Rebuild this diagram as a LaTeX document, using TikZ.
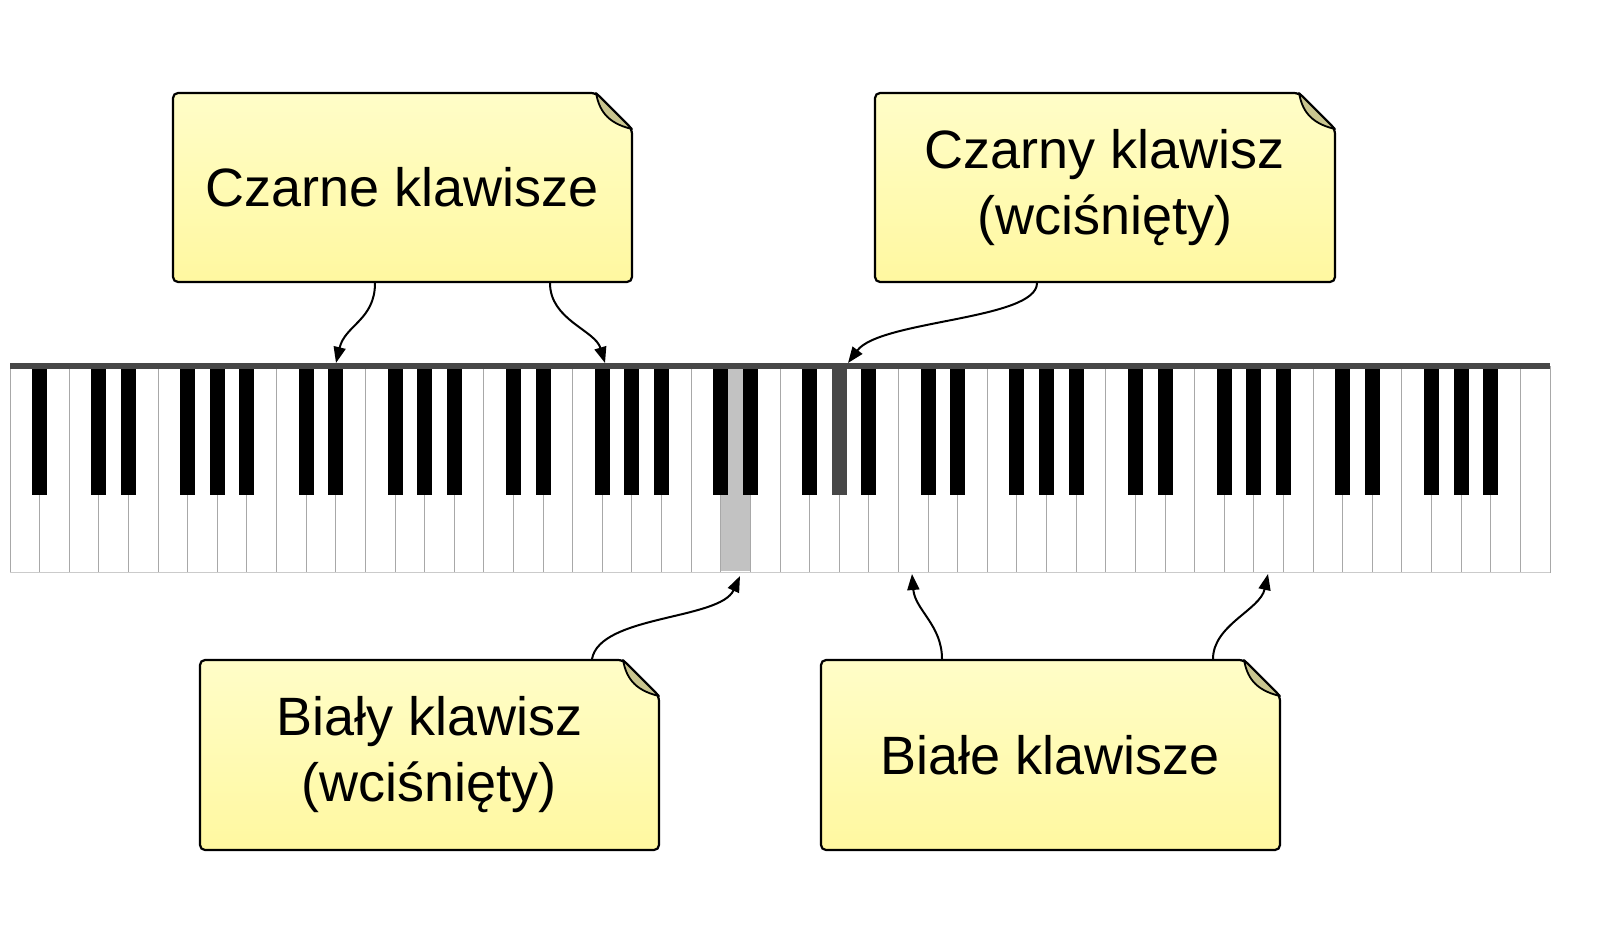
\documentclass[tikz,border=0pt]{standalone}
\usepackage{fontspec}
\setmainfont{Liberation Sans}
\usetikzlibrary{arrows.meta}
\definecolor{noteTop}{HTML}{FFFDC8}
\definecolor{noteBot}{HTML}{FFF8A0}
\definecolor{noteFold}{HTML}{C9C58F}
\definecolor{keyLine}{HTML}{A8A8A8}

\tikzset{
  notetext/.style={align=center, font=\fontsize{54}{66}\selectfont, inner sep=0pt},
  notebox/.style={draw=black, line width=2.2pt, rounded corners=5pt, top color=noteTop, bottom color=noteBot},
  notefold/.style={draw=black, line width=1.8pt, fill=noteFold, line join=round},
  pointer/.style={-{Triangle[length=16pt,width=12pt]}, line width=2pt},
  whitekey/.style={draw=keyLine, line width=1pt, fill=white},
  blackkey/.style={fill=black},
}

% callout: name, left, top, right, bottom, text
\newcommand{\notecallout}[6]{%
  \path[notebox] (#2,#3) -- (#4-36,#3) -- (#4,#3+36) -- (#4,#5) -- (#2,#5) -- cycle;%
  \path[notefold] (#4-36,#3) .. controls (#4-33,#3+16) and (#4-26,#3+30) .. (#4,#3+36) -- (#4-36,#3) -- cycle;%
  \node[notetext] (#1) at ({(#2+#4)/2},{(#3+#5)/2}) {#6};%
}

\begin{document}
\begin{tikzpicture}[x=1pt,y=-1pt]
    % white keys
    \foreach \i in {0,...,51} {
        \pgfmathsetmacro{\xl}{10+\i*29.615}
        \path[whitekey] (\xl,366) rectangle ++(29.615,206);
    }
    \fill[keyLine!70] (10+24*29.615,368) rectangle ++(29.615,203);

    % black keys (A0 B0 then 7 octaves)
    \foreach \b in {1,3,4,6,7,8,10,11,13,14,15,17,18,20,21,22,24,25,27,28,29,31,32,34,35,36,38,39,41,42,43,45,46,48,49,50} {
        \pgfmathsetmacro{\xc}{10+\b*29.615}
        \path[blackkey] (\xc-7.5,366) rectangle ++(15,129);
    }
    \fill[black!72] (10+28*29.615-7.5,366) rectangle ++(15,129);

    % top and bottom edges
    \fill[black!72] (10,363) rectangle (1550,369);
    \draw[keyLine!60, line width=1pt] (10,572) -- (1550,572);

    % arrow targets
    \coordinate (blackA) at (336,363);
    \coordinate (blackB) at (605,363);
    \coordinate (blackP) at (848,363);
    \coordinate (whiteP) at (740,576);
    \coordinate (whiteA) at (912,574);
    \coordinate (whiteB) at (1268,574);

    \notecallout{czarne}{173}{93}{632}{282}{Czarne klawisze}
    \notecallout{czarny}{875}{93}{1335}{282}{Czarny klawisz\\(wciśnięty)}
    \notecallout{bialy}{200}{660}{659}{850}{Biały klawisz\\(wciśnięty)}
    \notecallout{biale}{821}{660}{1280}{850}{Białe klawisze}

    \draw[pointer] (375,283) .. controls (375,320) and (345,325) .. (blackA);
    \draw[pointer] (550,283) .. controls (550,320) and (595,330) .. (blackB);
    \draw[pointer] (1037,283) .. controls (1037,320) and (880,320) .. (blackP);
    \draw[pointer] (592,659) .. controls (600,615) and (720,620) .. (whiteP);
    \draw[pointer] (942,659) .. controls (942,625) and (915,610) .. (whiteA);
    \draw[pointer] (1213,659) .. controls (1213,625) and (1260,610) .. (whiteB);

    \pgfresetboundingbox
    \useasboundingbox (0,0) rectangle (1600,936);
\end{tikzpicture}
\end{document}
